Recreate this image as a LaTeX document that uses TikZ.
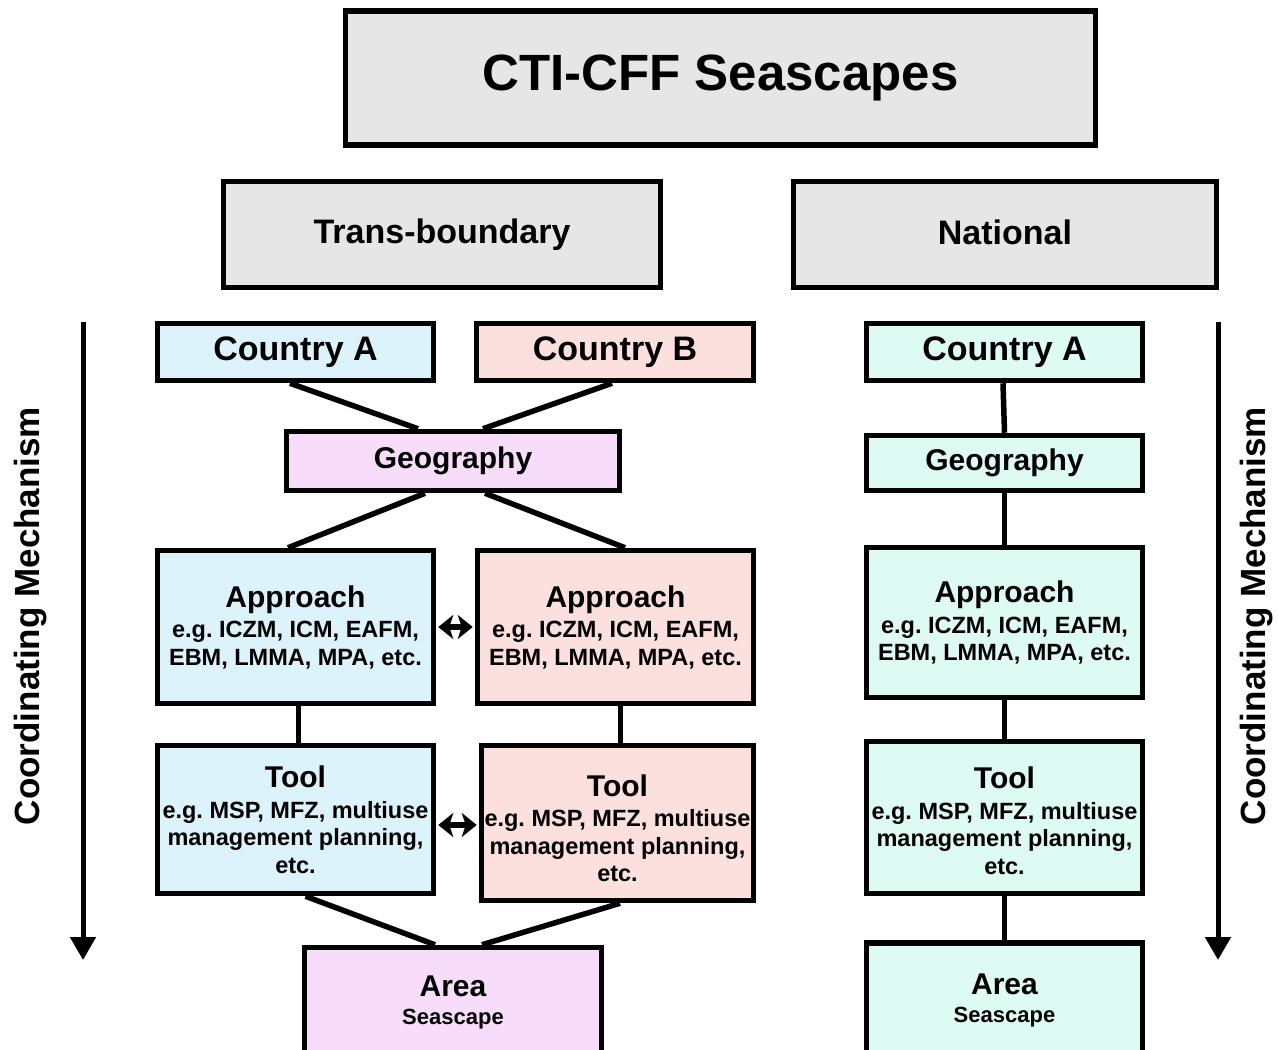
\documentclass[tikz,border=0pt]{standalone}
\usepackage{fontspec}
\setmainfont{Liberation Sans}
\usetikzlibrary{arrows.meta,calc}
\definecolor{cgray}{HTML}{E6E6E6}
\definecolor{cblue}{HTML}{DDF3FB}
\definecolor{cpink}{HTML}{FCE0DD}
\definecolor{clilac}{HTML}{F8DDFB}
\definecolor{cmint}{HTML}{DEFBF3}
\newcommand{\hdr}[1]{{\fontsize{30}{31}\selectfont #1}}
\frenchspacing
\begin{document}
\frenchspacing
\begin{tikzpicture}[x=1pt,y=-1pt,
  box/.style={draw=black, line width=5.5pt, inner sep=0pt, align=center, font=\bfseries},
  subtext/.style={font=\bfseries\fontsize{23.5}{27.5}\selectfont},
  areatext/.style={font=\bfseries\fontsize{22}{26}\selectfont},
  bigtext/.style={font=\bfseries\fontsize{34}{35}\selectfont},
  conn/.style={line width=5.5pt},
  bigarrow/.style={line width=5pt, arrows={-Triangle[length=23pt,width=25pt]}},
  dblarrow/.style={line width=6pt, arrows={Stealth[length=15pt,width=24pt,inset=4pt]-Stealth[length=15pt,width=24pt,inset=4pt]}},
  sidelabel/.style={rotate=90, font=\bfseries\fontsize{35}{36}\selectfont}]
\useasboundingbox (0,0) rectangle (1278,1050);
\fill[white] (0,0) rectangle (1278,1050);
% top level
\node[box, fill=cgray, minimum width=750pt, minimum height=134pt, font=\bfseries\fontsize{51}{52}\selectfont] (title) at (720.5,78) {CTI-CFF Seascapes};
\node[box, fill=cgray, minimum width=437pt, minimum height=106pt, bigtext] (tb) at (442,234.5) {Trans-boundary};
\node[box, fill=cgray, minimum width=423pt, minimum height=106pt, bigtext] (nat) at (1005,234.5) {\raisebox{4pt}{National}};
% trans-boundary column
\node[box, fill=cblue, minimum width=276pt, minimum height=57pt, bigtext] (cA) at (295.5,352) {Country A};
\node[box, fill=cpink, minimum width=277pt, minimum height=57pt, bigtext] (cB) at (615,352) {Country B};
\node[box, fill=clilac, minimum width=333pt, minimum height=59pt] (geo) at (453,461) {\hdr{Geography}};
\node[box, fill=cblue, minimum width=276pt, minimum height=153pt, subtext] (apL) at (295.5,627) {\hdr{Approach}\\[3pt] e.g. ICZM, ICM, EAFM,\\ EBM, LMMA, MPA, etc.};
\node[box, fill=cpink, minimum width=276pt, minimum height=153pt, subtext] (apR) at (615.5,627) {\hdr{Approach}\\[3pt] e.g. ICZM, ICM, EAFM,\\ EBM, LMMA, MPA, etc.};
\node[box, fill=cblue, minimum width=276pt, minimum height=148pt, subtext] (tlL) at (295.5,819.5) {\hdr{Tool}\\[3pt] e.g. MSP, MFZ, multiuse\\ management planning,\\ etc.};
\node[box, fill=cpink, minimum width=272pt, minimum height=155pt, subtext] (tlR) at (617.5,823) {\rule{0pt}{32pt}\hdr{Tool}\\[3pt] e.g. MSP, MFZ, multiuse\\ management planning,\\ etc.};
\node[box, fill=clilac, minimum width=297pt, minimum height=110pt, areatext] (arL) at (453,1002.5) {\hdr{Area}\\[2pt] Seascape};
% national column
\node[box, fill=cmint, minimum width=276pt, minimum height=57pt, bigtext] (ncA) at (1004.5,352) {Country A};
\node[box, fill=cmint, minimum width=276pt, minimum height=55pt] (ngeo) at (1004.5,463) {\hdr{Geography}};
\node[box, fill=cmint, minimum width=276pt, minimum height=150pt, subtext] (nap) at (1004.5,622.5) {\hdr{Approach}\\[3pt] e.g. ICZM, ICM, EAFM,\\ EBM, LMMA, MPA, etc.};
\node[box, fill=cmint, minimum width=276pt, minimum height=152pt, subtext] (ntl) at (1004.5,817.5) {\rule{0pt}{28pt}\hdr{Tool}\\[3pt] e.g. MSP, MFZ, multiuse\\ management planning,\\ etc.};
\node[box, fill=cmint, minimum width=276pt, minimum height=114pt, areatext] (nar) at (1004.5,1000) {\hdr{Area}\\[2pt] Seascape};
% connectors trans-boundary
\draw[conn] ($(cA.south)+(-5.5,0)$) -- ($(geo.north)+(-35,0)$);
\draw[conn] ($(cB.south)+(-3,0)$) -- ($(geo.north)+(30,0)$);
\draw[conn] ($(geo.south)+(-28,0)$) -- ($(apL.north)+(-7.5,0)$);
\draw[conn] ($(geo.south)+(32,0)$) -- ($(apR.north)+(9.5,0)$);
\draw[conn] ($(apL.south)+(3,0)$) -- ($(tlL.north)+(3,0)$);
\draw[conn] ($(apR.south)+(5,0)$) -- ($(tlR.north)+(3,0)$);
\draw[conn] ($(tlL.south)+(10,0)$) -- ($(arL.north)+(-18,0)$);
\draw[conn] ($(tlR.south)+(2.5,0)$) -- ($(arL.north)+(29,0)$);
% connectors national
\draw[conn] ($(ncA.south)+(-1.5,0)$) -- ($(ngeo.north)+(0,0)$);
\draw[conn] (ngeo.south) -- (nap.north);
\draw[conn] (nap.south) -- (ntl.north);
\draw[conn] (ntl.south) -- (nar.north);
% double arrows
\draw[dblarrow] ($(apL.east)+(2,0)$) -- ($(apR.west)+(-2,0)$);
\draw[dblarrow] ($(tlL.east |- 0,825)+(2,0)$) -- ($(tlR.west |- 0,825)+(-2,0)$);
% side arrows
\coordinate (lTop) at (83,322);
\coordinate (lBot) at (83,960);
\coordinate (rTop) at (1218,322);
\coordinate (rBot) at (1218,960);
\draw[bigarrow] (lTop) -- (lBot);
\draw[bigarrow] (rTop) -- (rBot);
\node[sidelabel] (lLab) at (31,616) {Coordinating Mechanism};
\node[sidelabel] (rLab) at (1257,616) {Coordinating Mechanism};
\end{tikzpicture}
\end{document}
